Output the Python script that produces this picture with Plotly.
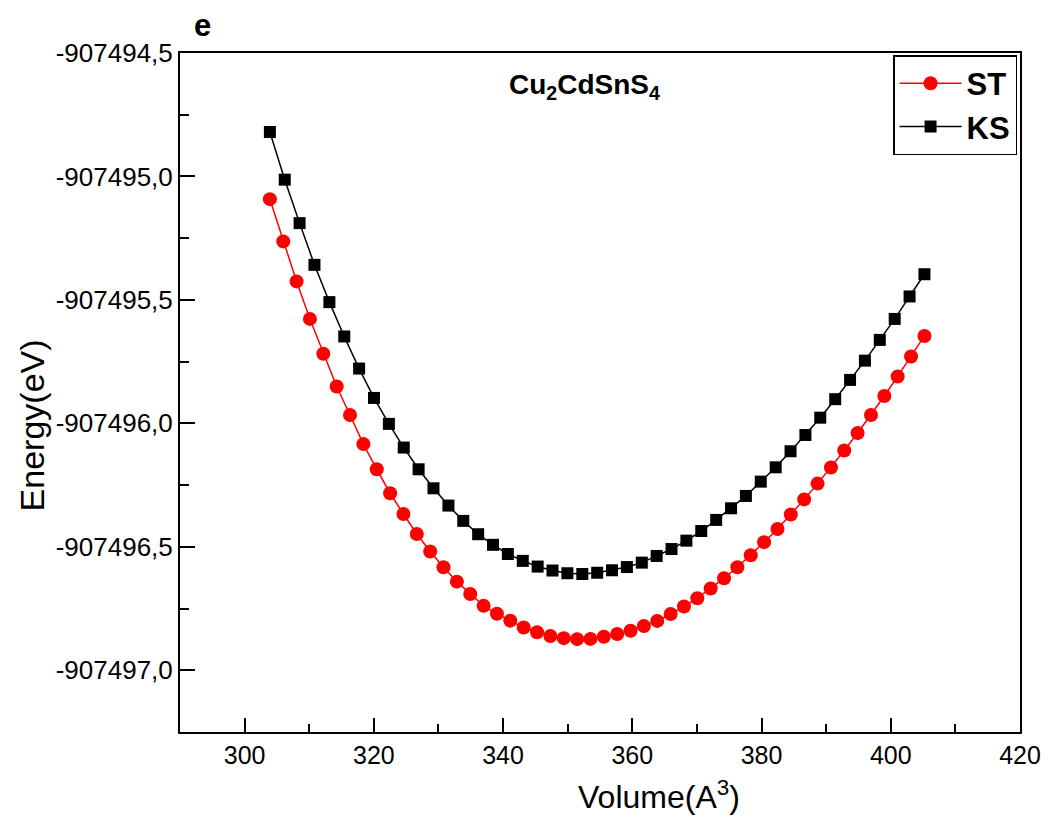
import plotly.graph_objects as go

# ---- data ----
st_volume = [303.91, 305.98, 308.04, 310.11, 312.18, 314.25, 316.31, 318.38, 320.45, 322.52,
             324.58, 326.65, 328.72, 330.78, 332.85, 334.92, 336.99, 339.05, 341.12, 343.19,
             345.26, 347.32, 349.39, 351.46, 353.52, 355.59, 357.66, 359.73, 361.79, 363.86,
             365.93, 368.00, 370.06, 372.13, 374.20, 376.26, 378.33, 380.40, 382.47, 384.53,
             386.60, 388.67, 390.74, 392.80, 394.87, 396.94, 399.00, 401.07, 403.14, 405.21]
st_energy = [-907495.092, -907495.263, -907495.425, -907495.577, -907495.718, -907495.851,
             -907495.966, -907496.084, -907496.186, -907496.283, -907496.367, -907496.448,
             -907496.519, -907496.583, -907496.641, -907496.691, -907496.739, -907496.771,
             -907496.799, -907496.827, -907496.846, -907496.861, -907496.870, -907496.874,
             -907496.873, -907496.864, -907496.853, -907496.840, -907496.821, -907496.800,
             -907496.772, -907496.742, -907496.708, -907496.669, -907496.627, -907496.583,
             -907496.534, -907496.481, -907496.428, -907496.369, -907496.308, -907496.244,
             -907496.179, -907496.110, -907496.039, -907495.966, -907495.889, -907495.810,
             -907495.729, -907495.646]

ks_volume = [303.91, 306.21, 308.51, 310.81, 313.12, 315.42, 317.72, 320.02, 322.33, 324.63,
             326.93, 329.23, 331.54, 333.84, 336.14, 338.44, 340.74, 343.05, 345.35, 347.65,
             349.95, 352.26, 354.56, 356.86, 359.16, 361.47, 363.77, 366.07, 368.37, 370.67,
             372.98, 375.28, 377.58, 379.88, 382.19, 384.49, 386.79, 389.09, 391.40, 393.70,
             396.00, 398.30, 400.61, 402.91, 405.21]
ks_energy = [-907494.820, -907495.013, -907495.189, -907495.358, -907495.509, -907495.648,
             -907495.778, -907495.897, -907496.002, -907496.098, -907496.186, -907496.263,
             -907496.333, -907496.395, -907496.449, -907496.492, -907496.529, -907496.557,
             -907496.580, -907496.596, -907496.607, -907496.610, -907496.605, -907496.595,
             -907496.582, -907496.564, -907496.537, -907496.509, -907496.475, -907496.436,
             -907496.391, -907496.344, -907496.294, -907496.236, -907496.178, -907496.113,
             -907496.047, -907495.977, -907495.902, -907495.824, -907495.746, -907495.662,
             -907495.577, -907495.486, -907495.396]

x_tick_vals = [300, 320, 340, 360, 380, 400, 420]
x_tick_text = ["300", "320", "340", "360", "380", "400", "420"]
x_minor_vals = [310, 330, 350, 370, 390, 410]
y_tick_vals = [-907494.5, -907495.0, -907495.5, -907496.0, -907496.5, -907497.0]
y_tick_text = ["-907494,5", "-907495,0", "-907495,5", "-907496,0", "-907496,5", "-907497,0"]
y_minor_vals = [-907494.75, -907495.25, -907495.75, -907496.25, -907496.75, -907497.25]

SANS = "Liberation Sans, Arial, sans-serif"

fig = go.Figure()
fig.add_trace(go.Scatter(
    x=st_volume, y=st_energy, name="ST", mode="lines+markers",
    line=dict(color="#ff0000", width=1.5),
    marker=dict(symbol="circle", size=14, color="#ff0000"),
))
fig.add_trace(go.Scatter(
    x=ks_volume, y=ks_energy, name="KS", mode="lines+markers",
    line=dict(color="#000000", width=1.5),
    marker=dict(symbol="square", size=12, color="#000000"),
))

fig.update_layout(
    width=1053, height=820,
    margin=dict(l=180, r=25, t=53, b=88),
    paper_bgcolor="white", plot_bgcolor="white",
    showlegend=True,
    legend=dict(
        x=0.9965, y=0.997, xanchor="right", yanchor="top",
        bgcolor="white", bordercolor="#000000", borderwidth=1.5,
        font=dict(family=SANS, size=31, color="#000000", weight="bold"),
        itemwidth=62, tracegroupgap=0,
    ),
    xaxis=dict(
        range=[290, 420], tickmode="array", tickvals=x_tick_vals, ticktext=x_tick_text,
        ticks="inside", ticklen=14, tickwidth=2, tickcolor="#000000",
        showline=True, linecolor="#000000", linewidth=2, mirror=True,
        showgrid=False, zeroline=False,
        tickfont=dict(family=SANS, size=25, color="#000000"),
        minor=dict(ticks="inside", ticklen=8, tickwidth=2, tickcolor="#000000",
                   tickvals=x_minor_vals, showgrid=False),
    ),
    yaxis=dict(
        range=[-907497.25, -907494.5], tickmode="array", tickvals=y_tick_vals, ticktext=y_tick_text,
        ticks="inside", ticklen=15, tickwidth=2, tickcolor="#000000",
        showline=True, linecolor="#000000", linewidth=2, mirror=True,
        showgrid=False, zeroline=False,
        tickfont=dict(family=SANS, size=26, color="#000000"),
        minor=dict(ticks="inside", ticklen=9, tickwidth=2, tickcolor="#000000",
                   tickvals=y_minor_vals, showgrid=False),
    ),
)

fig.add_annotation(text="Volume(A<sup>3</sup>)", xref="paper", yref="paper",
                   x=(664 - 180) / 848, y=-(795 - 732) / 679, xanchor="center", yanchor="middle",
                   showarrow=False, font=dict(family=SANS, size=32, color="#000000"))
fig.add_annotation(text="Energy(eV)", xref="paper", yref="paper", textangle=-90,
                   x=-(180 - 31) / 848, y=1 - (425 - 53) / 679, xanchor="center", yanchor="middle",
                   showarrow=False, font=dict(family=SANS, size=34, color="#000000"))
fig.add_annotation(text="<b>e</b>", xref="paper", yref="paper",
                   x=(203 - 180) / 848, y=1 + (53 - 26) / 679, xanchor="center", yanchor="middle",
                   showarrow=False, font=dict(family=SANS, size=31, color="#000000"))
fig.add_annotation(text="<b>Cu<sub>2</sub>CdSnS<sub>4</sub></b>", xref="paper", yref="paper",
                   x=(588 - 180) / 848, y=1 - (86 - 53) / 679, xanchor="center", yanchor="middle",
                   showarrow=False, font=dict(family=SANS, size=28, color="#000000"))

fig.write_html("out.html")
